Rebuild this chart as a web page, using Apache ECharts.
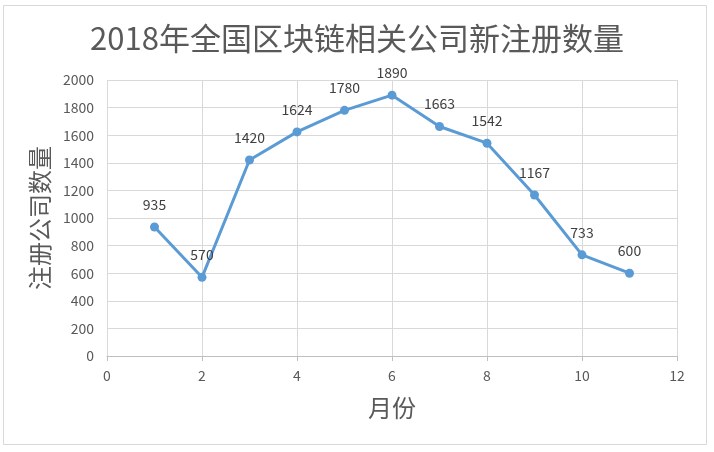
<!DOCTYPE html>
<html><head><meta charset="utf-8">
<script src="https://cdn.jsdelivr.net/npm/echarts@6/dist/echarts.min.js"></script>
<style>html,body{margin:0;padding:0;background:#fff}#c{width:714px;height:452px}</style>
</head><body><div id="c"></div>
<script>
const months = [1,2,3,4,5,6,7,8,9,10,11];
const counts = [935,570,1420,1624,1780,1890,1663,1542,1167,733,600];
const titleText = '2018年全国区块链相关公司新注册数量';
const xName = '月份';
const yName = '注册公司数量';

const chart = echarts.init(document.getElementById('c'));
const font = '"Noto Sans CJK SC", "Noto Sans", sans-serif';
chart.setOption({
  animation:false,
  backgroundColor:'#fff',
  textStyle:{fontFamily:font},
  title:{text:titleText,left:'center',top:18,textStyle:{fontSize:31,fontWeight:'normal',color:'#595959',fontFamily:font}},
  graphic:[{type:'rect',shape:{x:3.5,y:5.5,width:703,height:439},style:{fill:'none',stroke:'#d9d9d9',lineWidth:1},silent:true,z:-1}],
  grid:{left:107,right:37,top:80,bottom:96},
  xAxis:{type:'value',min:0,max:12,interval:2,
    name:xName,nameLocation:'middle',nameGap:40,nameTextStyle:{fontSize:24,color:'#595959',fontFamily:font},
    axisLine:{show:true,lineStyle:{color:'#bfbfbf'}},
    axisTick:{show:true,length:5,lineStyle:{color:'#bfbfbf'}},
    axisLabel:{color:'#595959',fontSize:14,margin:13,fontFamily:font},
    splitLine:{show:true,lineStyle:{color:'#d9d9d9'}}},
  yAxis:{type:'value',min:0,max:2000,interval:200,
    name:yName,nameLocation:'middle',nameGap:53,nameTextStyle:{fontSize:24,color:'#595959',fontFamily:font},
    axisLine:{show:false},axisTick:{show:false},
    axisLabel:{color:'#595959',fontSize:14,margin:13,fontFamily:font,formatter:v=>String(v)},
    splitLine:{show:true,lineStyle:{color:'#d9d9d9'}}},
  series:[{type:'line',data:months.map((m,i)=>[m,counts[i]]),smooth:false,
    symbol:'circle',symbolSize:9,
    lineStyle:{color:'#5b9bd5',width:3},itemStyle:{color:'#5b9bd5'},
    label:{show:true,position:'top',distance:11,color:'#404040',fontSize:14,fontFamily:font}}]
});
</script></body></html>
